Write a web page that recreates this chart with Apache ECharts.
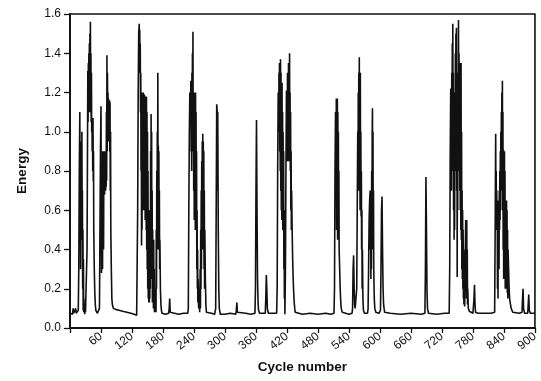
<!DOCTYPE html>
<html>
<head>
<meta charset="utf-8">
<script src="https://cdn.jsdelivr.net/npm/echarts@6/dist/echarts.min.js"></script>
<style>
html,body{margin:0;padding:0;background:#fff;}
#chart{width:541px;height:381px;}
</style>
</head>
<body>
<div id="chart"></div>
<script>
// Cycle numbers and energies
const cycles = [
0,3,5,6,7,10,11,12,14,15,16,
17,18,19,19.5,20,20.5,21,21.5,22,22.5,23,23.5,24,24.5,25,25.5,26,26.5,27,27.5,28,28.5,29,30,31,32,
33,34,34.5,35,35.5,36,36.5,37,37.5,38,38.5,39,39.5,40,40.5,41,41.5,42,42.5,43,43.5,44,44.5,45,45.5,46,47,48,49,50,51,53,56,57,
58,59,60,60.5,61,61.5,62,62.5,63,63.5,64,64.5,65,65.5,66,66.5,67,67.5,68,68.5,69,69.5,70,70.5,71,71.5,72,72.5,73,73.5,74,74.5,75,75.5,76,76.5,77,77.5,78,78.5,79,80,81,82,84,
88,95,102,110,118,124,129,
130,131,132,133,134,134.5,135,135.5,136,136.5,137,137.5,138,138.5,139,139.5,140,140.5,141,141.5,142,142.5,143,143.5,144,144.5,145,145.5,146,146.5,147,147.5,148,148.5,149,149.5,150,150.5,151,151.5,152,152.5,153,153.5,154,154.5,155,155.5,156,156.5,157,157.5,158,158.5,159,159.5,160,160.5,161,161.5,162,162.5,163,163.5,164,165,166,166.5,167,167.5,168,168.5,169,169.5,170,170.5,171,171.5,172,172.5,173,173.5,174,175,176,177,178,
185,191,192,193,194,196,210,220,228,229,
230,231,232,233,234,234.5,235,235.5,236,236.5,237,237.5,238,238.5,239,239.5,240,240.5,241,241.5,242,242.5,243,243.5,244,244.5,245,245.5,246,246.5,247,247.5,248,249,250,251,252,252.5,253,253.5,254,254.5,255,255.5,256,256.5,257,257.5,258,258.5,259,259.5,260,260.5,261,262,263,264,
266,274,280,282,283,284,285,285.5,286,287,288,289,291,300,310,321,322,323,324,326,340,350,358,359,360,361,362,363,364,365,367,378,379,380,381,382,384,400,
401,402,403,404,404.5,405,405.5,406,406.5,407,407.5,408,408.5,409,409.5,410,410.5,411,411.5,412,412.5,413,413.5,414,414.5,415,415.5,416,417,418,419,419.5,420,420.5,421,421.5,422,422.5,423,423.5,424,424.5,425,425.5,426,426.5,427,427.5,428,428.5,429,430,431,432,433,434,435,436,438,
450,465,480,495,505,511,512,
513,514,515,515.5,516,516.5,517,517.5,518,518.5,519,519.5,520,520.5,521,522,523,524,525,527,530,540,546,547,548,549,550,551,552,554,555,556,557,557.5,558,558.5,559,559.5,560,560.5,561,561.5,562,562.5,563,563.5,564,564.5,565,565.5,566,567,568,570,576,577,
578,579,580,581,581.5,582,582.5,583,583.5,584,584.5,585,585.5,586,586.5,587,587.5,588,589,590,592,598,601,602,603,604,605,606,607,609,620,640,660,680,687,688,689,690,691,692,694,710,725,734,735,
736,737,737.5,738,738.5,739,739.5,740,740.5,741,741.5,742,742.5,743,743.5,744,744.5,745,745.5,746,746.5,747,747.5,748,748.5,749,749.5,750,750.5,751,751.5,752,752.5,753,753.5,754,754.5,755,755.5,756,756.5,757,757.5,758,758.5,759,759.5,760,760.5,761,761.5,762,762.5,763,764,765,766,766.5,767,767.5,768,768.5,769,769.5,770,771,773,776,780,781,782,783,784,785,790,805,815,822,
823,824,824.5,825,825.5,826,826.5,827,827.5,828,828.5,829,829.5,830,830.5,831,831.5,832,832.5,833,833.5,834,834.5,835,835.5,836,836.5,837,837.5,838,838.5,839,839.5,840,840.5,841,841.5,842,842.5,843,843.5,844,844.5,845,845.5,846,846.5,847,847.5,848,849,850,851,852,854,857,860,870,875,876,877,878,880,886,887,888,889,891,900
];
const energy = [
0.075,0.075,0.07,0.1,0.075,0.075,0.1,0.075,0.08,0.075,0.09,
0.3,0.8,1.1,0.7,0.95,0.3,0.8,0.45,0.9,0.5,1.0,0.6,0.7,0.2,0.5,0.09,0.35,0.08,0.15,0.08,0.12,0.07,0.1,0.08,0.075,0.08,
0.4,1.0,1.31,1.05,1.35,1.1,1.4,1.2,1.45,1.1,1.5,1.2,1.56,1.1,1.4,1.05,1.3,1.0,1.07,0.9,1.06,0.8,1.07,0.75,0.9,0.5,0.3,0.18,0.12,0.09,0.08,0.075,0.075,0.1,
0.5,0.9,1.13,0.7,0.28,0.6,0.5,0.85,0.3,0.9,0.55,0.8,0.4,0.85,0.7,0.9,0.68,0.85,0.72,0.88,0.7,0.9,0.72,1.1,0.75,1.39,0.9,1.3,1.0,1.2,1.05,1.17,0.95,1.15,1.0,1.16,0.9,1.15,0.7,1.0,0.5,0.3,0.15,0.12,0.1,
0.095,0.09,0.085,0.08,0.075,0.07,0.065,
0.065,0.6,1.2,1.5,1.55,1.4,1.52,1.3,1.45,1.1,1.3,0.8,1.1,0.42,0.9,0.5,1.2,0.6,1.18,0.75,1.2,0.6,1.15,0.9,1.19,0.7,1.15,0.55,1.18,0.8,1.12,0.5,1.18,0.4,1.1,0.3,1.0,0.2,0.8,0.15,0.6,0.13,0.4,0.13,0.3,0.15,0.6,0.2,0.9,0.3,1.09,0.5,1.0,0.25,0.7,0.13,0.5,0.13,0.3,0.1,0.45,0.12,0.3,0.08,0.2,0.08,0.15,0.08,0.5,0.2,0.8,0.4,1.0,0.6,1.3,0.7,0.93,0.4,0.9,0.5,0.7,0.3,0.45,0.2,0.12,0.09,0.075,
0.07,0.075,0.1,0.15,0.08,0.07,0.07,0.075,0.075,0.1,
0.6,1.0,1.2,1.1,1.26,0.9,1.2,0.8,1.3,1.0,1.4,1.1,1.51,0.9,1.2,0.7,1.18,0.55,1.2,0.7,1.15,0.5,1.2,0.75,1.1,0.5,0.9,0.3,0.6,0.2,0.4,0.13,0.25,0.1,0.2,0.08,0.3,0.1,0.5,0.2,0.7,0.3,0.85,0.4,0.95,0.5,0.99,0.6,0.95,0.4,0.9,0.3,0.7,0.2,0.5,0.25,0.12,0.08,
0.07,0.075,0.07,0.1,0.6,1.14,1.1,0.7,1.1,0.5,0.2,0.1,0.07,0.07,0.075,0.07,0.09,0.13,0.08,0.07,0.075,0.07,0.075,0.2,0.7,1.06,0.6,0.25,0.13,0.09,0.075,0.075,0.15,0.27,0.2,0.1,0.075,0.075,
0.2,0.8,1.2,1.0,1.3,1.1,1.35,0.9,1.3,0.8,1.37,0.7,1.3,0.6,1.2,0.55,1.25,0.6,1.1,0.5,1.0,0.55,0.9,0.3,0.6,0.15,0.4,0.07,0.3,0.8,1.21,0.9,1.2,0.85,1.3,0.9,1.2,0.85,1.35,1.0,1.2,0.9,1.4,0.85,1.2,0.8,1.1,0.6,0.9,0.5,0.7,0.5,0.35,0.25,0.18,0.13,0.1,0.08,0.075,
0.07,0.075,0.07,0.075,0.07,0.075,0.2,
0.8,1.1,0.7,1.17,0.5,1.15,0.8,1.17,0.45,1.1,0.6,1.0,0.5,0.8,0.4,0.3,0.2,0.14,0.1,0.08,0.07,0.07,0.075,0.1,0.3,0.37,0.2,0.12,0.1,0.1,0.2,0.6,1.0,0.7,1.2,0.8,1.3,0.9,1.38,0.7,1.2,0.6,1.3,0.65,1.0,0.57,0.8,0.4,0.6,0.2,0.4,0.15,0.09,0.075,0.075,0.1,
0.3,0.55,0.65,0.7,0.4,0.6,0.25,0.5,0.3,0.8,0.4,1.0,1.12,0.6,1.0,0.4,0.7,0.3,0.15,0.1,0.08,0.075,0.09,0.3,0.6,0.67,0.4,0.2,0.12,0.08,0.075,0.07,0.075,0.07,0.075,0.3,0.77,0.5,0.2,0.1,0.075,0.07,0.075,0.075,0.3,
0.9,1.22,0.9,1.2,0.7,1.3,0.8,1.45,1.0,1.55,0.9,1.3,0.6,1.2,0.45,1.1,0.5,1.2,0.8,1.4,1.0,1.5,1.1,1.53,0.7,1.2,0.26,1.0,0.6,1.3,0.9,1.57,1.0,1.4,0.8,1.35,0.7,1.3,0.6,1.2,0.5,1.35,0.45,1.0,0.3,0.7,0.25,0.6,0.2,0.5,0.15,0.4,0.12,0.3,0.11,0.35,0.55,0.2,0.5,0.15,0.55,0.2,0.4,0.12,0.2,0.1,0.085,0.08,0.075,0.08,0.15,0.22,0.12,0.08,0.075,0.075,0.075,0.08,
0.5,0.99,0.6,0.8,0.5,0.7,0.55,0.65,0.2,0.6,0.15,0.6,0.5,0.65,0.3,0.7,0.5,0.8,0.55,0.9,0.6,1.0,0.7,1.1,0.8,1.2,0.8,1.26,0.6,1.1,0.4,0.91,0.25,0.8,0.5,0.9,0.3,0.8,0.2,0.5,0.3,0.6,0.25,0.65,0.2,0.6,0.18,0.5,0.15,0.4,0.3,0.2,0.15,0.13,0.1,0.08,0.075,0.075,0.08,0.15,0.2,0.1,0.075,0.075,0.12,0.17,0.09,0.075,0.075
];
const xTicks = [0,60,120,180,240,300,360,420,480,540,600,660,720,780,840,900];
const yTicks = [0.0,0.2,0.4,0.6,0.8,1.0,1.2,1.4,1.6];

const points = cycles.map((c, i) => [c, energy[i]]);
const FONT = '"Liberation Sans", Arial, sans-serif';

const chart = echarts.init(document.getElementById('chart'), null, {renderer: 'canvas'});
chart.setOption({
  animation: false,
  backgroundColor: '#fff',
  grid: {left: 70, right: 3, top: 14, bottom: 53, show: true, borderColor: '#111', borderWidth: 1.6, backgroundColor: 'transparent'},
  xAxis: {
    type: 'value', min: xTicks[0], max: xTicks[xTicks.length - 1], interval: 60,
    name: 'Cycle number', nameLocation: 'middle', nameGap: 32,
    nameTextStyle: {fontFamily: FONT, fontSize: 13.5, fontWeight: 'bold', color: '#111'},
    axisLine: {show: true, lineStyle: {color: '#111', width: 1.8}},
    axisTick: {show: true, length: 5, lineStyle: {color: '#111', width: 1.3}},
    splitLine: {show: false},
    axisLabel: {
      rotate: 38, margin: 7, color: '#111', fontFamily: FONT, fontSize: 12,
      formatter: v => (v === 0 ? '' : String(v))
    }
  },
  yAxis: {
    type: 'value', min: yTicks[0], max: yTicks[yTicks.length - 1], interval: 0.2,
    name: 'Energy', nameLocation: 'middle', nameGap: 41,
    nameTextStyle: {fontFamily: FONT, fontSize: 13.5, fontWeight: 'bold', color: '#111'},
    axisLine: {show: true, lineStyle: {color: '#111', width: 1.8}},
    axisTick: {show: true, length: 6, lineStyle: {color: '#111', width: 1.3}},
    splitLine: {show: false},
    axisLabel: {margin: 9, color: '#111', fontFamily: FONT, fontSize: 12, formatter: v => v.toFixed(1)}
  },
  series: [{
    type: 'line', data: points, showSymbol: false, symbol: 'none',
    lineStyle: {color: '#111', width: 1.6}, clip: true
  }]
});
</script>
</body>
</html>
